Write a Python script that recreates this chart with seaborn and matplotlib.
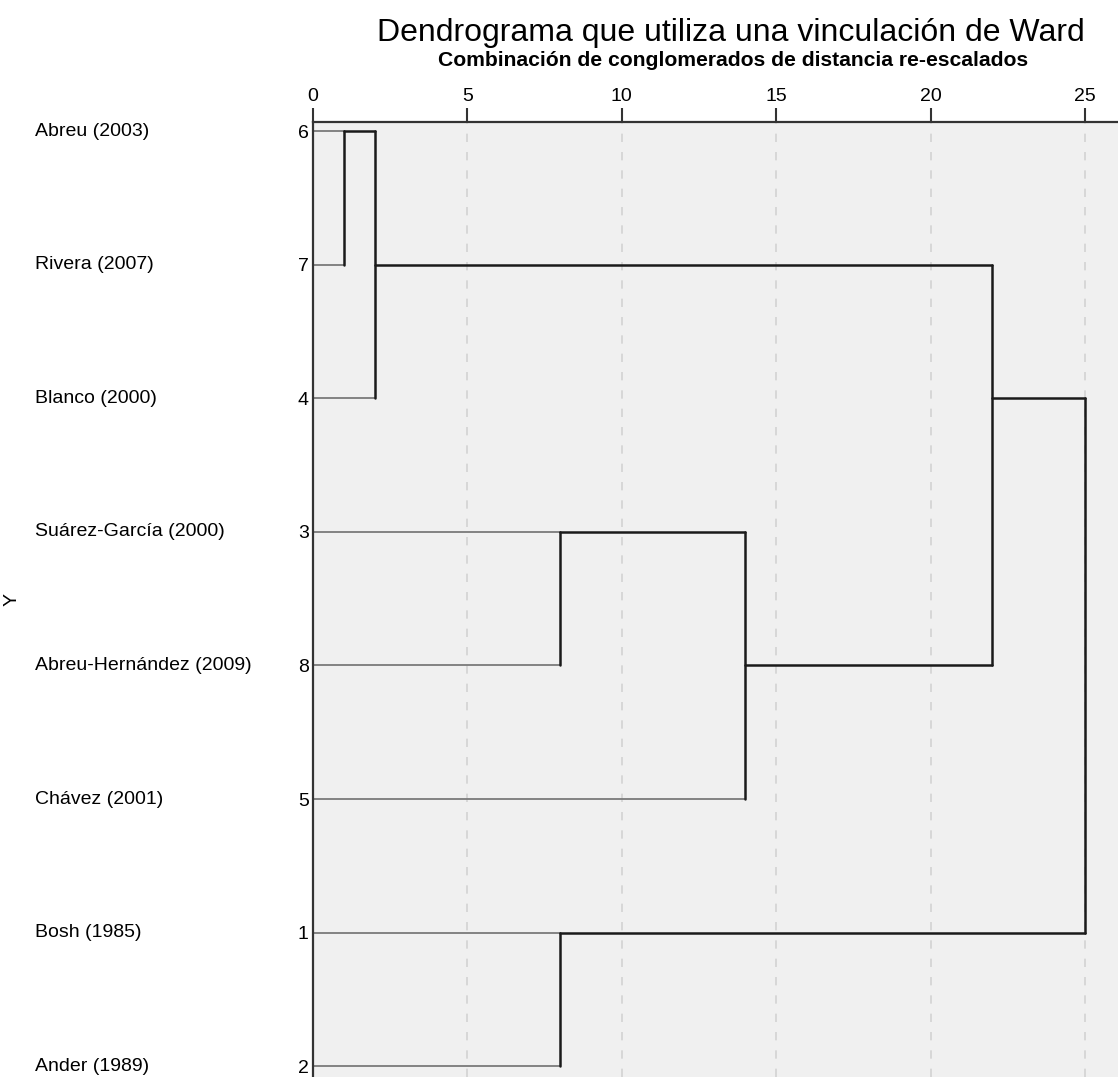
import numpy as np
import pandas as pd
import seaborn as sns
import matplotlib.pyplot as plt

# Leaves, top to bottom, as ordered in the dendrogram
case_ids = [6, 7, 4, 3, 8, 5, 1, 2]
case_names = ['Abreu (2003)', 'Rivera (2007)', 'Blanco (2000)', 'Suárez-García (2000)',
              'Abreu-Hernández (2009)', 'Chávez (2001)', 'Bosh (1985)', 'Ander (1989)']

# Ward merge steps: (cluster a, cluster b, rescaled distance)
merge_a = [(6,), (6, 7), (3,), (1,), (3, 8), (6, 7, 4), (6, 7, 4, 3, 8, 5)]
merge_b = [(7,), (4,), (8,), (2,), (5,), (3, 8, 5), (1, 2)]
merge_dist = [1, 2, 8, 8, 14, 22, 25]

x_ticks = [0, 5, 10, 15, 20, 25]

sns.set_theme(style='white')
plt.rcParams['font.family'] = ['Liberation Sans', 'DejaVu Sans']
plt.rcParams['text.color'] = 'black'
plt.rcParams['xtick.color'] = 'black'
plt.rcParams['ytick.color'] = 'black'

row_of = {c: i for i, c in enumerate(case_ids)}
pos = {(c,): row_of[c] for c in case_ids}
height = {(c,): 0 for c in case_ids}

rows = []
seg = 0
for a, b, d in zip(merge_a, merge_b, merge_dist):
    for child in (a, b):
        kind = 'leaf' if len(child) == 1 else 'node'
        rows += [dict(x=height[child], y=pos[child], seg=seg, kind=kind),
                 dict(x=d, y=pos[child], seg=seg, kind=kind)]
        seg += 1
    rows += [dict(x=d, y=pos[a], seg=seg, kind='node'),
             dict(x=d, y=pos[b], seg=seg, kind='node')]
    seg += 1
    # SPSS places a cluster on the leaf row at the floor of its members' mean row
    pos[a + b] = int(np.floor(np.mean([row_of[c] for c in a + b])))
    height[a + b] = d

segs = pd.DataFrame(rows)

fig = plt.figure(figsize=(11.18, 10.77), dpi=100)
ax_w = 1 - 313 / 1118
ax = fig.add_axes([313 / 1118, 0, ax_w, 1 - 122 / 1077])
ax.set_facecolor('#f0f0f0')

for t in x_ticks[1:]:
    ax.axvline(t, color='#d2d2d2', lw=1.2, ls=(0, (5, 6)), zorder=0)

sns.lineplot(data=segs, x='x', y='y', units='seg', estimator=None, sort=False,
             hue='kind', palette={'leaf': '#7a7a7a', 'node': '#1a1a1a'},
             size='kind', sizes={'leaf': 1.3, 'node': 1.8}, legend=False, ax=ax)

ax.set_xlim(0, (1118 - 313) / ((1085 - 313) / 25))
ax.set_ylim((1077 - 131) / 133.6, -9 / 133.6)

ax.xaxis.tick_top()
ax.set_xticks(x_ticks)
ax.tick_params(axis='x', top=True, bottom=False, length=10, width=1.5, color='#333333',
               labelsize=14, pad=2, direction='out')
ax.set_yticks(range(len(case_ids)))
ax.set_yticklabels([str(c) for c in case_ids])
ax.tick_params(axis='y', left=True, length=0, labelsize=14, pad=3)
ax.set_xlabel('')
ax.set_ylabel('')

for side in ['right', 'bottom']:
    ax.spines[side].set_visible(False)
for side in ['top', 'left']:
    ax.spines[side].set_color('#333333')
    ax.spines[side].set_linewidth(1.6)

name_x = (35 - 313) / (1118 * ax_w)
for i, name in enumerate(case_names):
    ax.text(name_x, i, name, transform=ax.get_yaxis_transform(), fontsize=14,
            va='center', ha='left', clip_on=False)

fig.text(731 / 1118, 1 - 33 / 1077, 'Dendrograma que utiliza una vinculación de Ward',
         ha='center', va='center', fontsize=23)
fig.text(733 / 1118, 1 - 61 / 1077, 'Combinación de conglomerados de distancia re-escalados',
         ha='center', va='center', fontsize=15.2, fontweight='bold')
fig.text(12 / 1118, 1 - 600 / 1077, 'Y', rotation=90, ha='center', va='center', fontsize=14)

fig.savefig('out.png', dpi=100)
